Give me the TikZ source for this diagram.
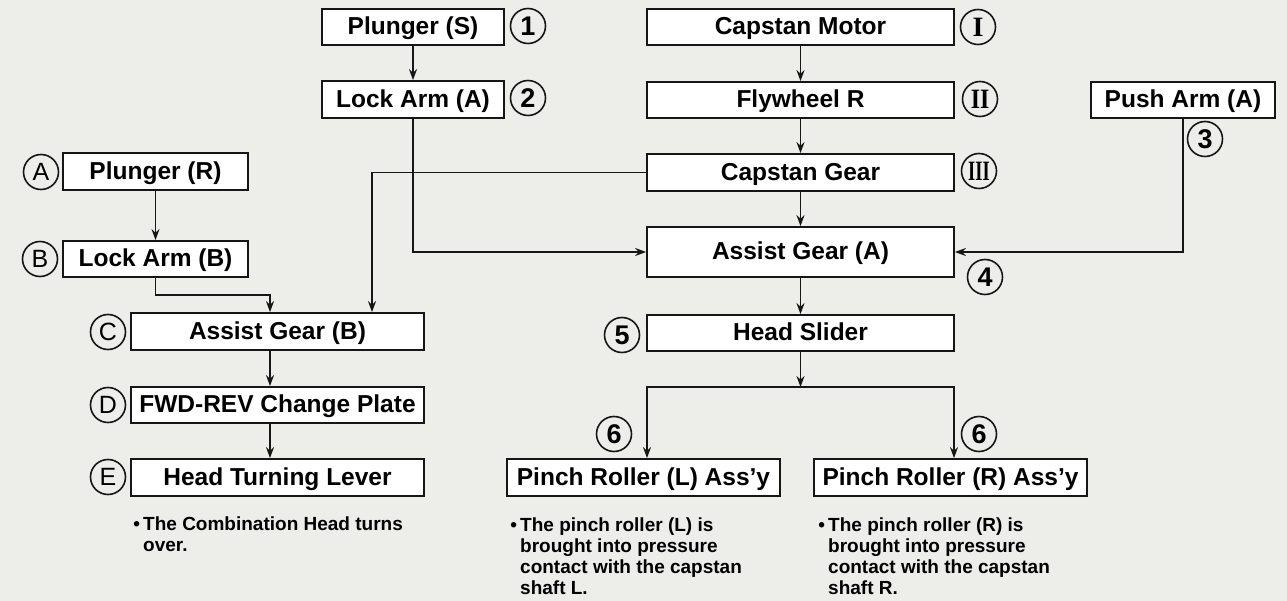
\documentclass[tikz,border=0pt]{standalone}
\usepackage{fontspec}
\setmainfont{Liberation Sans}
\newfontfamily\romanfont{Liberation Serif}
\usetikzlibrary{arrows.meta}
\definecolor{paper}{RGB}{237,237,233}
\definecolor{ink}{RGB}{22,22,22}
\newcommand{\partfont}{\fontsize{24.5}{28}\selectfont\bfseries}
\newcommand{\notefont}{\fontsize{19}{21}\selectfont\bfseries}

\begin{document}
\begin{tikzpicture}[x=1pt,y=-1pt,>={Stealth[length=11pt,width=8pt]},
  part/.style={draw=ink,fill=white,line width=1.8pt,minimum height=36pt,inner sep=0pt,
    text height=17.5pt,text depth=2pt,font=\partfont},
  num/.style={draw=ink,circle,line width=1.6pt,minimum size=35pt,inner sep=0pt,font=\fontsize{27}{27}\selectfont\bfseries},
  tag/.style={num,font=\fontsize{25}{25}\selectfont},
  rom/.style={num,font=\fontsize{28}{28}\selectfont\romanfont\bfseries},
  note/.style={anchor=north west,align=left,inner sep=0pt,font=\notefont},
  link/.style={draw=ink,line width=1.6pt}]
  \fill[paper] (0,0) rectangle (1287,601);
  \useasboundingbox (0,0) rectangle (1287,601);

  \node[part,minimum width=182pt] (plungerS) at (413,27) {Plunger (S)};
  \node[part,minimum width=182pt,minimum height=37pt] (lockA) at (413,99.5) {Lock Arm (A)};
  \node[part,minimum width=307pt] (motor) at (800.5,27) {Capstan Motor};
  \node[part,minimum width=307pt] (flywheel) at (800.5,100) {Flywheel R};
  \node[part,minimum width=307pt,minimum height=37pt] (capgear) at (800.5,172.5) {Capstan Gear};
  \node[part,minimum width=307pt,minimum height=50pt] (assistA) at (800.5,252) {Assist Gear (A)};
  \node[part,minimum width=184pt] (pushA) at (1183,100) {Push Arm (A)};
  \node[part,minimum width=185pt,minimum height=37pt] (plungerR) at (155.5,171.5) {Plunger (R)};
  \node[part,minimum width=185pt] (lockB) at (155.5,259) {Lock Arm (B)};
  \node[part,minimum width=293pt,minimum height=37pt] (assistB) at (277.5,331.5) {Assist Gear (B)};
  \node[part,minimum width=293pt] (fwdrev) at (277.5,405) {FWD-REV Change Plate};
  \node[part,minimum width=293pt,minimum height=37pt] (headlever) at (277.5,477.5) {Head Turning Lever};
  \node[part,minimum width=307pt] (slider) at (800.5,333) {Head Slider};
  \node[part,minimum width=273pt,minimum height=37pt] (pinchL) at (643.5,477.5) {Pinch Roller (L) Ass’y};
  \node[part,minimum width=273pt,minimum height=37pt] (pinchR) at (950.5,477.5) {Pinch Roller (R) Ass’y};

  \node[num] (m1) at (528,26) {1};
  \node[num] (m2) at (528,98) {2};
  \node[num] (m3) at (1205,139) {3};
  \node[num] (m4) at (985,277) {4};
  \node[num] (m5) at (622,335) {5};
  \node[num] (m6L) at (614,434) {6};
  \node[num] (m6R) at (979,434) {6};
  \node[rom] (mI) at (978,27) {I};
  \node[rom] (mII) at (980,99) {\scalebox{0.85}[1]{II}};
  \node[rom] (mIII) at (979,171) {\scalebox{0.66}[1]{III}};
  \node[tag] (mA) at (41,172) {A};
  \node[tag] (mB) at (40,259) {B};
  \node[tag] (mC) at (108,332) {C};
  \node[tag] (mD) at (108,405) {D};
  \node[tag] (mE) at (108,477) {E};

  \node[note] (noteE) at (143,517) {\llap{\textbullet\,}The Combination Head turns\\over.};
  \node[note] (noteL) at (520,518) {\llap{\textbullet\,}The pinch roller (L) is\\brought into pressure\\contact with the capstan\\shaft L.};
  \node[note] (noteR) at (828,518) {\llap{\textbullet\,}The pinch roller (R) is\\brought into pressure\\contact with the capstan\\shaft R.};

  \coordinate (jB) at (270,295);
  \coordinate (jG) at (372,172.5);
  \coordinate (brL) at (647,387);
  \coordinate (brM) at (800.5,387);
  \coordinate (brR) at (954,387);

  \draw[link,->] (plungerS) -- (lockA);
  \draw[link,->] (lockA) |- (assistA);
  \draw[link,->] (motor) -- (flywheel);
  \draw[link,->] (flywheel) -- (capgear);
  \draw[link,->] (capgear) -- (assistA);
  \draw[link,->] (pushA) |- (assistA);
  \draw[link,->] (assistA) -- (slider);
  \draw[link,->] (capgear.west) -- (jG) -- (jG |- assistB.north);
  \draw[link,->] (plungerR) -- (lockB);
  \draw[link,->] (lockB) |- (jB) -- (jB |- assistB.north);
  \draw[link,->] (jB |- assistB.south) -- (jB |- fwdrev.north);
  \draw[link,->] (jB |- fwdrev.south) -- (jB |- headlever.north);
  \draw[link,->] (slider) -- (brM);
  \draw[link,<->] (brL |- pinchL.north) -- (brL) -- (brR) -- (brR |- pinchR.north);
\end{tikzpicture}
\end{document}
